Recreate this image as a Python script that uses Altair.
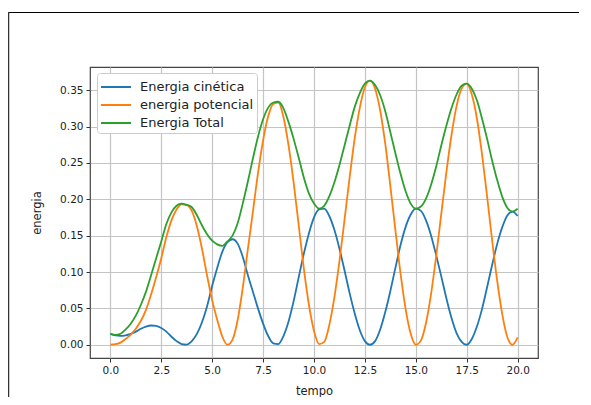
import altair as alt
import pandas as pd

tempo = [0.0, 0.25, 0.5, 0.75, 1.0, 1.25, 1.5, 1.75, 2.0, 2.25, 2.5, 2.75, 3.0, 3.25, 3.5, 3.75,
         4.0, 4.25, 4.5, 4.75, 5.0, 5.25, 5.5, 5.75, 6.0, 6.25, 6.5, 6.75, 7.0, 7.25, 7.5, 7.75,
         8.0, 8.25, 8.5, 8.75, 9.0, 9.25, 9.5, 9.75, 10.0, 10.25, 10.5, 10.75, 11.0, 11.25, 11.5, 11.75,
         12.0, 12.25, 12.5, 12.75, 13.0, 13.25, 13.5, 13.75, 14.0, 14.25, 14.5, 14.75, 15.0, 15.25, 15.5, 15.75,
         16.0, 16.25, 16.5, 16.75, 17.0, 17.25, 17.5, 17.75, 18.0, 18.25, 18.5, 18.75, 19.0, 19.25, 19.5, 19.75,
         20.0]

cinetica = [0.015, 0.0128, 0.0122, 0.013, 0.015, 0.018, 0.022, 0.025, 0.0265, 0.026, 0.023, 0.018, 0.011, 0.005, 0.001, 0.0003,
            0.005, 0.015, 0.031, 0.053, 0.081, 0.106, 0.128, 0.141, 0.145, 0.139, 0.121, 0.096, 0.073, 0.050, 0.029, 0.012,
            0.002, 0.001, 0.012, 0.032, 0.060, 0.093, 0.125, 0.153, 0.175, 0.186, 0.187, 0.177, 0.158, 0.132, 0.102, 0.071,
            0.043, 0.020, 0.005, 0.000, 0.005, 0.021, 0.045, 0.074, 0.106, 0.137, 0.162, 0.179, 0.187, 0.184, 0.171, 0.150,
            0.123, 0.094, 0.064, 0.037, 0.016, 0.004, 0.000, 0.008, 0.025, 0.049, 0.079, 0.110, 0.139, 0.162, 0.178, 0.183,
            0.177]

potencial = [0.000, 0.0008, 0.003, 0.008, 0.014, 0.022, 0.033, 0.048, 0.069, 0.093, 0.119, 0.148, 0.171, 0.186, 0.193, 0.192,
             0.184, 0.163, 0.132, 0.095, 0.061, 0.034, 0.011, 0.000, 0.007, 0.034, 0.078, 0.131, 0.183, 0.236, 0.281, 0.314,
             0.331, 0.333, 0.313, 0.274, 0.223, 0.164, 0.105, 0.055, 0.019, 0.001, 0.004, 0.027, 0.065, 0.115, 0.172, 0.230,
             0.284, 0.326, 0.354, 0.363, 0.352, 0.322, 0.276, 0.218, 0.157, 0.098, 0.049, 0.015, 0.000, 0.006, 0.030, 0.070,
             0.122, 0.180, 0.237, 0.288, 0.328, 0.352, 0.359, 0.344, 0.311, 0.262, 0.204, 0.143, 0.087, 0.041, 0.010, 0.000,
             0.010]

total = [0.015, 0.0136, 0.0152, 0.021, 0.029, 0.040, 0.055, 0.073, 0.0955, 0.119, 0.142, 0.166, 0.182, 0.191, 0.194, 0.1923,
         0.189, 0.178, 0.164, 0.152, 0.143, 0.138, 0.136, 0.142, 0.150, 0.167, 0.194, 0.224, 0.256, 0.286, 0.310, 0.326,
         0.333, 0.334, 0.325, 0.306, 0.283, 0.257, 0.230, 0.208, 0.194, 0.187, 0.191, 0.204, 0.223, 0.247, 0.274, 0.301,
         0.327, 0.346, 0.359, 0.363, 0.357, 0.343, 0.321, 0.292, 0.263, 0.235, 0.211, 0.194, 0.187, 0.190, 0.201, 0.220,
         0.245, 0.274, 0.301, 0.325, 0.344, 0.356, 0.359, 0.352, 0.336, 0.311, 0.283, 0.253, 0.226, 0.203, 0.188, 0.183,
         0.187]

series_names = ["Energia cinética", "energia potencial", "Energia Total"]
series_colors = ["#1f77b4", "#ff7f0e", "#2ca02c"]
x_ticks = [0.0, 2.5, 5.0, 7.5, 10.0, 12.5, 15.0, 17.5, 20.0]
y_ticks = [0.0, 0.05, 0.10, 0.15, 0.20, 0.25, 0.30, 0.35]

rows = []
for name, vals in zip(series_names, [cinetica, potencial, total]):
    for t, v in zip(tempo, vals):
        rows.append({"tempo": t, "energia": v, "serie": name})
df = pd.DataFrame(rows)

x_enc = alt.X("tempo:Q",
              scale=alt.Scale(domain=[-1, 21], nice=False, zero=False),
              axis=alt.Axis(values=x_ticks, format=".1f", title="tempo", labelFlush=False,
                            titlePadding=10))
y_enc = alt.Y("energia:Q",
              scale=alt.Scale(domain=[-0.0182, 0.3818], nice=False, zero=False),
              axis=alt.Axis(values=y_ticks, format=".2f", title="energia", titlePadding=17))
color_enc = alt.Color("serie:N",
                      scale=alt.Scale(domain=series_names, range=series_colors),
                      legend=alt.Legend(title=None, orient="none", legendX=7, legendY=6,
                                        symbolType="M-1,0L2,0", symbolSize=400, symbolStrokeWidth=2,
                                        labelFont="DejaVu Sans", labelFontSize=13, labelColor="#222",
                                        labelOffset=18, padding=3, rowPadding=-3,
                                        fillColor="white", strokeColor="#cccccc", cornerRadius=3))

layers = []
for name in series_names:
    layers.append(
        alt.Chart(df).transform_filter(alt.datum.serie == name)
        .mark_line(strokeWidth=1.8, interpolate="monotone")
        .encode(x=x_enc, y=y_enc, color=color_enc)
    )

frame_df = pd.DataFrame({"k": [0]})
frame_top = alt.Chart(frame_df).mark_rule(color="black", strokeWidth=1, strokeCap="butt").encode(
    x=alt.value(-82), x2=alt.value(489), y=alt.value(-54.5), y2=alt.value(-54.5))
frame_left = alt.Chart(frame_df).mark_rule(color="#333333", strokeWidth=1.5).encode(
    x=alt.value(-81.5), y=alt.value(-55), y2=alt.value(330))

chart = (
    alt.layer(*layers, frame_top, frame_left)
    .properties(width=448, height=291,
                autosize=alt.AutoSizeParams(type="none"),
                padding={"left": 82, "top": 59, "right": 45, "bottom": 39})
    .configure_view(stroke="#444444", strokeWidth=1.2)
    .configure_axis(labelFont="DejaVu Sans", labelFontSize=10.5, labelColor="#222222",
                    titleFont="DejaVu Sans", titleFontSize=11.5, titleFontWeight="normal",
                    titleColor="#222222", tickColor="#333333", tickSize=4, tickWidth=1,
                    labelPadding=3, domain=False, grid=True, gridColor="#c4c4c4", gridWidth=1.2)
)

chart.save("out.html", embed_options={"renderer": "svg", "actions": False})
